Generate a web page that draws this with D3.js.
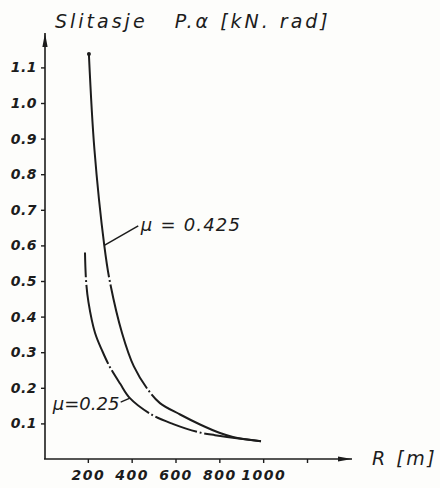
<!DOCTYPE html>
<html>
<head>
<meta charset="utf-8">
<script src="https://cdn.jsdelivr.net/npm/d3@7"></script>
<style>
  html, body { margin: 0; padding: 0; background: #fdfdfb; }
  svg { display: block; }
  text { font-family: 'DejaVu Sans', sans-serif; font-style: italic; fill: #1c1c1c; }
</style>
</head>
<body>
<svg width="440" height="488"></svg>
<script>
// Values
const yTicks = [0.1, 0.2, 0.3, 0.4, 0.5, 0.6, 0.7, 0.8, 0.9, 1.0, 1.1];
const xTicks = [200, 400, 600, 800, 1000, 1200];
const xTickLabels = ['200', '400', '600', '800', '1000', ''];

// mu = 0.425
const rHigh = [205, 230, 275, 300, 356, 410, 475, 529, 621, 712, 803, 862, 990];
const vHigh = [1.135, 0.87, 0.6, 0.5, 0.354, 0.26, 0.194, 0.157, 0.125, 0.097, 0.073, 0.062, 0.05];

// mu = 0.25
const rLow = [187, 192, 203, 233, 267, 301, 347, 392, 493, 590, 700, 780, 835, 990];
const vLow = [0.58, 0.5, 0.44, 0.354, 0.302, 0.258, 0.212, 0.171, 0.124, 0.098, 0.076, 0.067, 0.062, 0.05];

// where the dash-dot breaks sit on each curve (value on the y axis)
const breaksHigh = [0.5, 0.19];
const breaksLow = [0.5, 0.258, 0.124, 0.074];

const seriesLabels = ['\u03bc = 0.425', '\u03bc=0.25'];

// style values
const ink = '#1c1c1c';
const axisWidth = 1.6;
const curveWidth = 2;

const svg = d3.select('svg');

const x = d3.scaleLinear().domain([0, 1200]).range([44, 307]);
const y = d3.scaleLinear().domain([0, 1.1]).range([459, 67.4]);

// arrow marker
const defs = svg.append('defs');
defs.append('marker')
  .attr('id', 'arrow')
  .attr('viewBox', '0 -3 14 6')
  .attr('refX', 14)
  .attr('refY', 0)
  .attr('markerWidth', 14)
  .attr('markerHeight', 6)
  .attr('markerUnits', 'userSpaceOnUse')
  .attr('orient', 'auto')
  .append('path')
  .attr('d', 'M0,-2.6L14,0L0,2.6Z')
  .attr('fill', ink);

// axes lines with arrows
svg.append('line')
  .attr('x1', x(0) + 1).attr('y1', y(0))
  .attr('x2', x(0) + 1).attr('y2', 33)
  .attr('stroke', ink).attr('stroke-width', axisWidth)
  .attr('marker-end', 'url(#arrow)');
svg.append('line')
  .attr('x1', x(0)).attr('y1', y(0))
  .attr('x2', 352).attr('y2', y(0))
  .attr('stroke', ink).attr('stroke-width', axisWidth)
  .attr('marker-end', 'url(#arrow)');

// y axis ticks
const yAxis = svg.append('g')
  .attr('transform', `translate(${x(0) + 1},0)`)
  .call(d3.axisLeft(y).tickValues(yTicks).tickSize(4).tickPadding(4).tickFormat(d3.format('.1f')));
yAxis.select('.domain').remove();
yAxis.selectAll('line').attr('stroke', ink).attr('stroke-width', 1.4);
yAxis.selectAll('text')
  .attr('font-size', 14)
  .attr('font-weight', 'bold')
  .attr('letter-spacing', 0.5)
  .attr('font-family', 'DejaVu Sans')
  .style('font-style', 'italic')
  .attr('fill', ink);

// x axis ticks
const xAxis = svg.append('g')
  .attr('transform', `translate(0,${y(0)})`)
  .call(d3.axisBottom(x).tickValues(xTicks).tickSize(4).tickPadding(7)
    .tickFormat((d, i) => xTickLabels[i]));
xAxis.select('.domain').remove();
xAxis.selectAll('line').attr('stroke', ink).attr('stroke-width', 1.4);
xAxis.selectAll('text')
  .attr('font-size', 14)
  .attr('font-weight', 'bold')
  .attr('letter-spacing', 1.5)
  .attr('font-family', 'DejaVu Sans')
  .style('font-style', 'italic')
  .attr('fill', ink);

// curves
const line = d3.line()
  .x((d) => x(d[0]))
  .y((d) => y(d[1]))
  .curve(d3.curveCatmullRom.alpha(0.5));

// dash array with a short "gap . gap" break at each given value
function dashBreaks(node, breaks) {
  const total = node.getTotalLength();
  const at = (target) => {
    let lo = 0, hi = total;
    for (let i = 0; i < 40; i++) {
      const mid = (lo + hi) / 2;
      if (node.getPointAtLength(mid).y < target) lo = mid;
      else hi = mid;
    }
    return (lo + hi) / 2;
  };
  const gap = 2.8, dot = 1.8;
  const parts = [];
  let pos = 0;
  breaks.forEach((b) => {
    const c = at(y(b));
    const start = c - dot / 2 - gap;
    parts.push(Math.max(0, start - pos), gap, dot, gap);
    pos = c + dot / 2 + gap;
  });
  parts.push(total - pos + 10);
  return parts.join(',');
}

const curves = [
  { data: rHigh.map((r, i) => [r, vHigh[i]]), breaks: breaksHigh },
  { data: rLow.map((r, i) => [r, vLow[i]]), breaks: breaksLow },
];

curves.forEach((c) => {
  const p = svg.append('path')
    .datum(c.data)
    .attr('d', line)
    .attr('fill', 'none')
    .attr('stroke', ink)
    .attr('stroke-width', curveWidth)
    .attr('stroke-linecap', 'butt');
  p.attr('stroke-dasharray', dashBreaks(p.node(), c.breaks));
});

// dot at the top of the upper curve
svg.append('circle')
  .attr('cx', x(rHigh[0]))
  .attr('cy', y(vHigh[0]) - 1)
  .attr('r', 2)
  .attr('fill', ink);

// leader lines and labels
svg.append('line')
  .attr('x1', x(275)).attr('y1', y(0.6))
  .attr('x2', x(430)).attr('y2', y(0.655))
  .attr('stroke', ink).attr('stroke-width', 1.5);
svg.append('text')
  .attr('x', x(442))
  .attr('y', y(0.64))
  .attr('font-size', 18)
  .attr('letter-spacing', 1.2)
  .text(seriesLabels[0]);

svg.append('line')
  .attr('x1', x(350)).attr('y1', y(0.16))
  .attr('x2', x(392)).attr('y2', y(0.171))
  .attr('stroke', ink).attr('stroke-width', 1.3);
svg.append('text')
  .attr('x', x(40))
  .attr('y', y(0.138))
  .attr('font-size', 18)
  .attr('letter-spacing', 0)
  .text(seriesLabels[1]);

// titles
svg.append('text')
  .attr('x', 55)
  .attr('y', 28)
  .attr('font-size', 19)
  .attr('letter-spacing', 3)
  .attr('xml:space', 'preserve')
  .style('white-space', 'pre')
  .text('Slitasje   P.\u03b1 [kN. rad]');

svg.append('text')
  .attr('x', 372)
  .attr('y', 465)
  .attr('font-size', 19)
  .attr('letter-spacing', 2.5)
  .text('R [m]');
</script>
</body>
</html>
